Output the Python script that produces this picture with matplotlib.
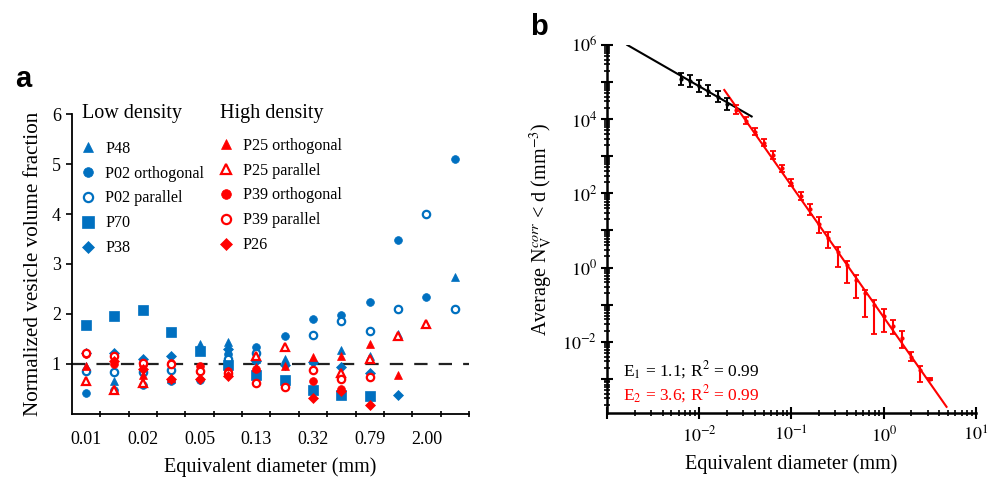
import numpy as np
import matplotlib
matplotlib.use('Agg')
import matplotlib.pyplot as plt
from matplotlib.ticker import FixedLocator, LogLocator, FuncFormatter, NullFormatter

plt.rcParams['font.family'] = ['Liberation Serif', 'DejaVu Serif']
plt.rcParams['mathtext.fontset'] = 'stix'

BLUE = '#0070C0'
RED = '#FF0000'
nan = np.nan

# ---------------- Panel a data ----------------
positions = list(range(14))
size_labels = ['0.01', '0.02', '0.05', '0.13', '0.32', '0.79', '2.00']
label_positions = [0, 2, 4, 6, 8, 10, 12]

p48      = [0.95, 0.65, 0.62, 0.70, 1.40, 1.43, 1.10, 1.10, 1.08, 1.27, 1.15, 1.60, 1.80, 2.73]
p02_orth = [0.42, 0.47, 0.58, 0.65, 0.67, 1.20, 1.33, 1.55, 1.89, 1.98, 2.23, 3.48, 2.33, 5.11]
p02_par  = [0.86, 0.84, 0.83, 0.87, nan, 1.10, 1.22, nan, 1.58, 1.85, 1.66, 2.10, 4.00, 2.10]
p70      = [1.78, 1.95, 2.07, 1.63, 1.25, 0.98, 0.77, 0.68, 0.47, 0.38, 0.35, nan, nan, nan]
p38      = [1.22, 1.22, 1.10, 1.15, nan, 1.30, 1.05, 0.98, 1.04, 0.93, 0.82, 0.38, nan, nan]
p25_orth = [0.95, 0.50, 0.78, 0.72, 0.90, 0.85, 0.93, 0.95, 1.13, 1.15, 1.40, 0.78, nan, nan]
p25_par  = [0.65, 0.48, 0.62, nan, nan, nan, 1.15, 1.33, nan, 0.82, 1.10, 1.55, 1.80, nan]
p39_orth = [1.20, 1.00, 0.98, 1.02, 0.95, 0.85, 0.90, nan, 0.66, 0.50, nan, nan, nan, nan]
p39_par  = [1.22, 1.15, 1.02, 1.00, 0.85, 0.82, 0.62, 0.53, 0.87, 0.70, 0.73, nan, nan, nan]
p26      = [nan, 1.05, 0.90, 0.70, 0.70, 0.75, nan, nan, 0.32, 0.45, 0.18, nan, nan, nan]

# ---------------- Panel b data ----------------
black_x = [0.0063, 0.0079, 0.010, 0.0126, 0.0158, 0.020]
black_y = [123000, 107000, 78500, 58900, 40700, 25700]
black_err_dec = [0.16, 0.16, 0.16, 0.15, 0.15, 0.15]

red_x = [0.025, 0.032, 0.040, 0.050, 0.063, 0.079, 0.10, 0.126, 0.158, 0.20, 0.25,
         0.32, 0.40, 0.50, 0.63, 0.79, 1.0, 1.26, 1.58, 2.0, 2.5, 3.2]
red_y = [17800, 9100, 4600, 2340, 1080, 474, 195, 85, 37, 14.8, 6.3,
         2.7, 1.17, 0.47, 0.20, 0.10, 0.048, 0.026, 0.013, 0.004, 0.0017, 0.001]
red_err_up = [0.12, 0.10, 0.10, 0.10, 0.10, 0.10, 0.10, 0.12, 0.15, 0.20, 0.17,
              0.13, 0.12, 0.13, 0.10, 0.13, 0.20, 0.16, 0.18, 0.13, 0.11, 0.03]
red_err_dn = [0.12, 0.10, 0.10, 0.10, 0.10, 0.10, 0.10, 0.12, 0.15, 0.25, 0.28,
              0.41, 0.49, 0.50, 0.63, 0.79, 0.43, 0.20, 0.27, 0.11, 0.31, 0.03]

black_fit_x = [0.00166, 0.037]
black_fit_coef, black_fit_slope = 106.0, -1.43
red_fit_x = [0.0187, 4.8]
red_fit_coef, red_fit_slope = 0.0458, -3.545

fig = plt.figure(figsize=(9.98, 4.78), dpi=100)

# ================= Panel a =================
axA = fig.add_axes([0.0721, 0.1339, 0.3978, 0.6276])
axA.axhline(1.0, color='#222222', lw=1.6, ls=(0, (6, 5)), zorder=1)

low = [('P48', p48, '^', True, 6.3),
       ('P02 orthogonal', p02_orth, 'o', True, 5.6),
       ('P02 parallel', p02_par, 'o', False, 5.3),
       ('P70', p70, 's', True, 6.8),
       ('P38', p38, 'D', True, 5.0)]
high = [('P25 orthogonal', p25_orth, '^', True, 6.3),
        ('P25 parallel', p25_par, '^', False, 5.6),
        ('P39 orthogonal', p39_orth, 'o', True, 5.6),
        ('P39 parallel', p39_par, 'o', False, 5.3),
        ('P26', p26, 'D', True, 5.0)]

def draw(group, color):
    handles = []
    for name, vals, mk, filled, ms in group:
        if filled:
            h, = axA.plot(positions, vals, ls='none', marker=mk, ms=ms, color=color,
                          mec=color, mew=0.5, label=name, zorder=3)
        else:
            h, = axA.plot(positions, vals, ls='none', marker=mk, ms=ms, mfc='white',
                          mec=color, mew=1.6, label=name, zorder=3)
        handles.append(h)
    return handles

hl = draw(low, BLUE)
hh = draw(high, RED)

axA.set_xlim(-0.5, 13.5)
axA.set_ylim(0, 6)
axA.set_yticks([1, 2, 3, 4, 5, 6])
axA.set_xticks(label_positions)
axA.set_xticklabels(size_labels)
axA.xaxis.set_minor_locator(FixedLocator([p + 0.5 for p in positions]))
axA.tick_params(axis='x', which='major', length=0, pad=12, labelsize=13)
axA.tick_params(axis='x', which='minor', length=4, width=1.2, direction='inout')
axA.tick_params(axis='y', which='major', length=4, width=1.2, direction='out', pad=4, labelsize=13)
for s in ['top', 'right']:
    axA.spines[s].set_visible(False)
for s in ['left', 'bottom']:
    axA.spines[s].set_linewidth(1.3)
axA.set_xlabel('Equivalent diameter (mm)', fontsize=14.5, labelpad=7)
axA.set_ylabel('Normalized vesicle volume fraction', fontsize=15.2, labelpad=6)

axA.text(0.025, 1.003, 'Low density', transform=axA.transAxes, fontsize=14.5,
         ha='left', va='center')
axA.text(0.373, 1.003, 'High density', transform=axA.transAxes, fontsize=14.5,
         ha='left', va='center')

common = dict(loc='upper left', frameon=False, fontsize=11.6, markerscale=1.25,
              handlelength=0.8, handletextpad=0.65, labelspacing=0.55,
              borderpad=0, borderaxespad=0)
leg1 = axA.legend(handles=hl, bbox_to_anchor=(0.025, 0.911), **common)
axA.add_artist(leg1)
leg2 = axA.legend(handles=hh, bbox_to_anchor=(0.371, 0.921), **common)

fig.text(0.015, 0.817, 'a', fontsize=21, fontweight='bold', family='Liberation Sans')

# ================= Panel b =================
axB = fig.add_axes([0.6082, 0.136, 0.3697, 0.7699])
axB.set_xscale('log')
axB.set_yscale('log')

bx = np.array(black_x); by = np.array(black_y); be = np.array(black_err_dec)
axB.errorbar(bx, by, yerr=[by - by / 10**be, by * 10**be - by], fmt='o', ms=2,
             color='black', ecolor='black', elinewidth=1.5, capsize=2.2, capthick=1.3, zorder=3)
rx = np.array(red_x); ry = np.array(red_y)
ru = np.array(red_err_up); rd = np.array(red_err_dn)
axB.errorbar(rx, ry, yerr=[ry - ry / 10**rd, ry * 10**ru - ry], fmt='o', ms=2,
             color=RED, ecolor=RED, elinewidth=1.5, capsize=2.2, capthick=1.3, zorder=3)

bfx = np.array(black_fit_x)
axB.plot(bfx, black_fit_coef * bfx**black_fit_slope, color='black', lw=1.5, zorder=2)
rfx = np.array(red_fit_x)
axB.plot(rfx, red_fit_coef * rfx**red_fit_slope, color=RED, lw=1.5, zorder=2)

axB.set_xlim(1e-3, 1e1)
axB.set_ylim(1.2e-4, 1e6)

axB.xaxis.set_major_locator(FixedLocator([1e-3, 1e-2, 1e-1, 1e0, 1e1]))
def xfmt(v, p):
    e = int(round(np.log10(v)))
    return '' if e == -3 else r'$10^{%d}$' % e
axB.xaxis.set_major_formatter(FuncFormatter(xfmt))
axB.xaxis.set_minor_locator(LogLocator(base=10, subs=np.arange(2, 10), numticks=20))
axB.xaxis.set_minor_formatter(NullFormatter())

axB.yaxis.set_major_locator(FixedLocator([10.0**k for k in range(-3, 7)]))
def yfmt(v, p):
    e = int(round(np.log10(v)))
    return r'$10^{%d}$' % e if e % 2 == 0 else ''
axB.yaxis.set_major_formatter(FuncFormatter(yfmt))
axB.yaxis.set_minor_locator(LogLocator(base=10, subs=np.arange(2, 10), numticks=20))
axB.yaxis.set_minor_formatter(NullFormatter())

axB.tick_params(which='major', direction='inout', length=8, width=1.5, labelsize=13)
axB.tick_params(which='minor', direction='inout', length=5, width=1.2)
axB.tick_params(axis='x', which='major', pad=5)
axB.tick_params(axis='y', which='major', pad=3)
for s in ['top', 'right']:
    axB.spines[s].set_visible(False)
for s in ['left', 'bottom']:
    axB.spines[s].set_linewidth(1.8)

axB.set_xlabel('Equivalent diameter (mm)', fontsize=14.5, labelpad=6)
axB.set_ylabel(r'Average N$_\mathrm{V}^{corr}$ < d (mm$^{-3}$)', fontsize=14.5, labelpad=5)

axB.text(0.043, 0.117, r'E$_1$ = 1.1; R$^2$ = 0.99', transform=axB.transAxes,
         fontsize=12.5, color='black', va='center', ha='left')
axB.text(0.043, 0.052, r'E$_2$ = 3.6; R$^2$ = 0.99', transform=axB.transAxes,
         fontsize=12.5, color=RED, va='center', ha='left')

fig.text(0.531, 0.927, 'b', fontsize=21, fontweight='bold', family='Liberation Sans')

fig.savefig('out.png', dpi=100)
